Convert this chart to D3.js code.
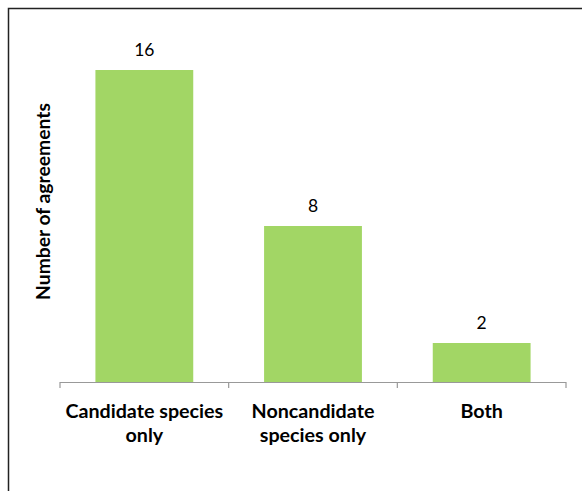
<!DOCTYPE html>
<html>
<head>
<meta charset="utf-8">
<script src="https://cdn.jsdelivr.net/npm/d3@7"></script>
<style>
  html, body { margin: 0; padding: 0; background: #fff; }
  svg { display: block; }
</style>
</head>
<body>
<svg id="chart" width="582" height="491"></svg>
<script>
// Agreement counts by species group
const categories = [["Candidate species", "only"], ["Noncandidate", "species only"], ["Both"]];
const values = [16, 8, 2];
const yTitle = "Number of agreements";

const svg = d3.select("#chart");
const W = 582, H = 491;
const plot = { left: 60, right: 566, top: 70, bottom: 382 };
const font = "Lato, Calibri, 'Open Sans', sans-serif";

// outer frame (runs past the lower and right edges of the view)
svg.append("rect")
  .attr("x", 8.5).attr("y", 8.5)
  .attr("width", W + 20).attr("height", H + 20)
  .attr("fill", "none").attr("stroke", "#222").attr("stroke-width", 1.5);

const x = d3.scaleBand()
  .domain(d3.range(values.length))
  .range([plot.left, plot.right])
  .paddingInner(0.42).paddingOuter(0.21);

const y = d3.scaleLinear().domain([0, 16]).range([plot.bottom, plot.top]);

// bars
svg.append("g").selectAll("rect").data(values).join("rect")
  .attr("x", (d, i) => x(i))
  .attr("y", d => y(d))
  .attr("width", x.bandwidth())
  .attr("height", d => y(0) - y(d))
  .attr("fill", "#a2d665");

// value labels
svg.append("g").selectAll("text").data(values).join("text")
  .attr("x", (d, i) => x(i) + x.bandwidth() / 2)
  .attr("y", d => y(d) - 14.5)
  .attr("text-anchor", "middle")
  .attr("font-family", font).attr("font-size", 17.5).attr("fill", "#000")
  .text(d => d);

// category axis: baseline with ticks at band boundaries
const step = (plot.right - plot.left) / values.length;
const axis = svg.append("g").attr("stroke", "#999").attr("stroke-width", 1.2);
axis.append("line")
  .attr("x1", plot.left).attr("x2", plot.right)
  .attr("y1", plot.bottom + 0.5).attr("y2", plot.bottom + 0.5);
axis.selectAll("line.tick").data(d3.range(values.length + 1)).join("line")
  .attr("class", "tick")
  .attr("x1", i => plot.left + i * step).attr("x2", i => plot.left + i * step)
  .attr("y1", plot.bottom).attr("y2", plot.bottom + 6);

// category labels
const labels = svg.append("g")
  .attr("font-family", font).attr("font-size", 19.7).attr("font-weight", "bold")
  .attr("text-anchor", "middle").attr("fill", "#000");
categories.forEach((lines, i) => {
  const cx = x(i) + x.bandwidth() / 2;
  const t = labels.append("text").attr("x", cx).attr("y", 418);
  lines.forEach((ln, j) => t.append("tspan").attr("x", cx).attr("dy", j ? 24 : 0).text(ln));
});

// y axis title
svg.append("text")
  .attr("transform", "translate(50, 201.5) rotate(-90)")
  .attr("text-anchor", "middle")
  .attr("font-family", font).attr("font-size", 19.3).attr("font-weight", "bold")
  .text(yTitle);
</script>
</body>
</html>
